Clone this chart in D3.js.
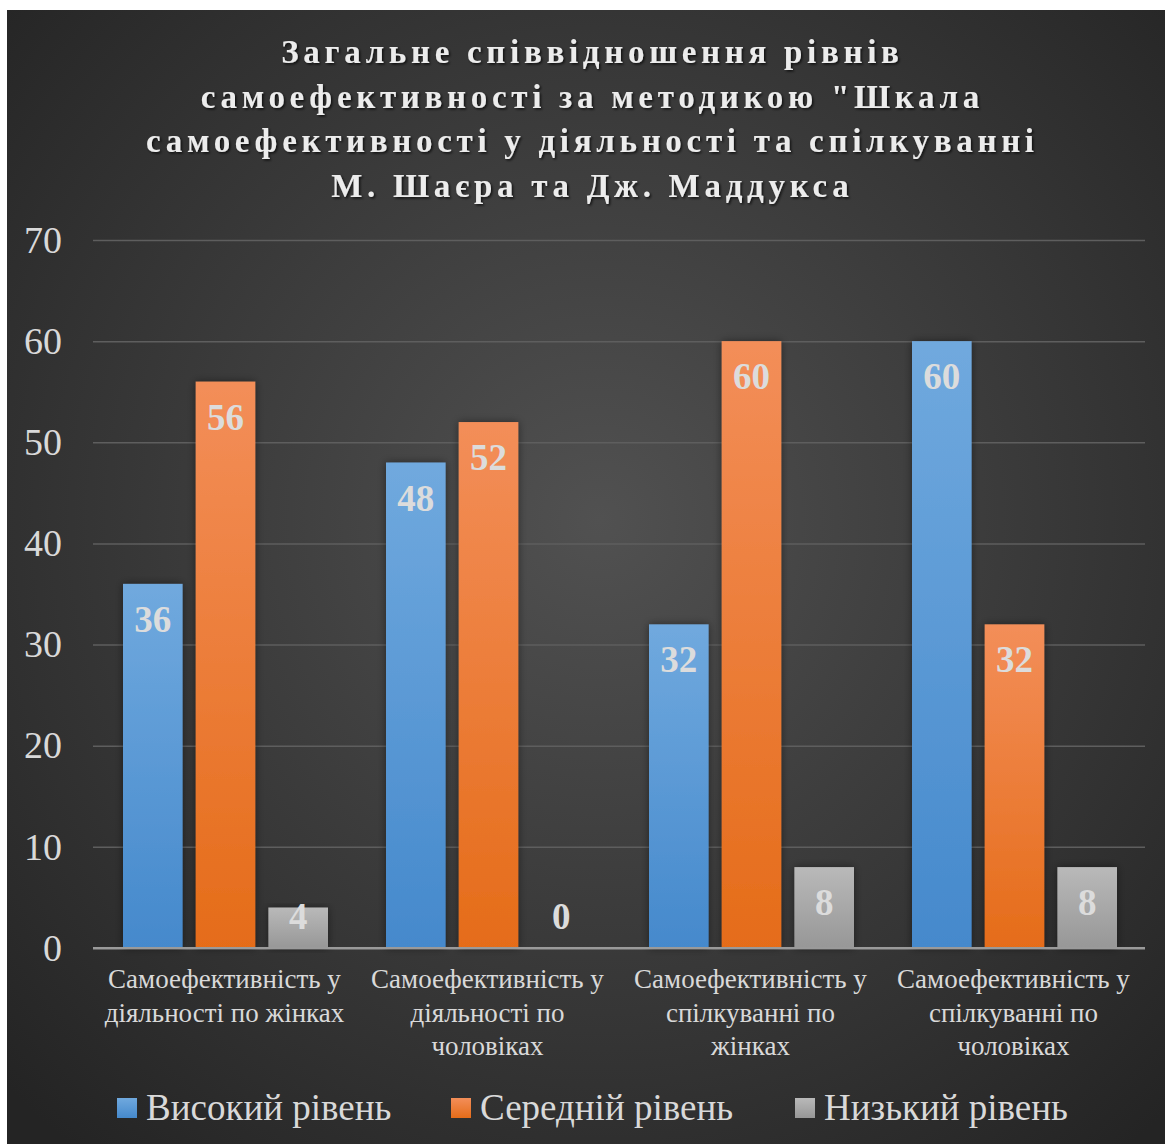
<!DOCTYPE html>
<html>
<head>
<meta charset="utf-8">
<script src="https://cdn.jsdelivr.net/npm/d3@7/dist/d3.min.js"></script>
<style>
  html, body { margin: 0; padding: 0; background: #ffffff; }
  svg { display: block; }
</style>
</head>
<body>
<script>
// Categories, series and values
const categories = [
  ["Самоефективність у", "діяльності по жінках"],
  ["Самоефективність у", "діяльності по", "чоловіках"],
  ["Самоефективність у", "спілкуванні по", "жінках"],
  ["Самоефективність у", "спілкуванні по", "чоловіках"]
];
const seriesNames = ["Високий рівень", "Середній рівень", "Низький рівень"];
const highValues = [36, 48, 32, 60];
const mediumValues = [56, 52, 60, 32];
const lowValues = [4, 0, 8, 8];
const yTicks = [0, 10, 20, 30, 40, 50, 60, 70];
const titleLines = [
  "Загальне співвідношення рівнів",
  "самоефективності за методикою \"Шкала",
  "самоефективності у діяльності та спілкуванні",
  "М. Шаєра та Дж. Маддукса"
];

const W = 1165, H = 1144;
const serif = "'Liberation Serif', 'Times New Roman', serif";

const svg = d3.select("body").append("svg")
  .attr("width", W).attr("height", H);

const defs = svg.append("defs");

// background radial gradient
const bg = defs.append("radialGradient").attr("id", "bgGrad")
  .attr("gradientUnits", "userSpaceOnUse")
  .attr("cx", 600).attr("cy", 520).attr("r", 820);
bg.append("stop").attr("offset", "0%").attr("stop-color", "#515151");
bg.append("stop").attr("offset", "100%").attr("stop-color", "#242424");

// bar gradients
const barColors = [
  ["#70a9de", "#4589cc"],
  ["#f38e59", "#e56c19"],
  ["#b9b9b9", "#979797"]
];
barColors.forEach((c, i) => {
  const g = defs.append("linearGradient").attr("id", "bar" + i)
    .attr("x1", 0).attr("y1", 0).attr("x2", 0).attr("y2", 1);
  g.append("stop").attr("offset", "0%").attr("stop-color", c[0]);
  g.append("stop").attr("offset", "100%").attr("stop-color", c[1]);
});

const shadow = defs.append("filter").attr("id", "barShadow")
  .attr("x", "-30%").attr("y", "-10%").attr("width", "160%").attr("height", "120%");
shadow.append("feDropShadow").attr("dx", 0).attr("dy", 0)
  .attr("stdDeviation", 4).attr("flood-color", "#000").attr("flood-opacity", 0.45);

const txtShadow = defs.append("filter").attr("id", "txtShadow")
  .attr("x", "-5%").attr("y", "-20%").attr("width", "110%").attr("height", "140%");
txtShadow.append("feDropShadow").attr("dx", 1.5).attr("dy", 1.5)
  .attr("stdDeviation", 1.2).attr("flood-color", "#000").attr("flood-opacity", 0.7);

svg.append("rect").attr("x", 7).attr("y", 10)
  .attr("width", W - 7).attr("height", H - 10)
  .attr("fill", "url(#bgGrad)");

// title
const titleSpacing = 4.7;
svg.append("g").attr("filter", "url(#txtShadow)")
  .selectAll("text").data(titleLines).join("text")
  .attr("x", 590 + titleSpacing / 2).attr("y", (d, i) => 63 + i * 44.5)
  .attr("text-anchor", "middle")
  .attr("font-family", serif).attr("font-weight", "bold")
  .attr("font-size", 33).attr("letter-spacing", titleSpacing)
  .attr("fill", "#ececec")
  .text(d => d);

// scales
const y = d3.scaleLinear().domain([0, 70]).range([948, 240]);
const x0 = d3.scaleBand().domain(d3.range(categories.length))
  .range([93, 1145]).paddingInner(0).paddingOuter(0);
const x1 = d3.scaleBand().domain(d3.range(3))
  .range([30, x0.bandwidth() - 28]).paddingInner(0.18);

// gridlines and y axis labels
const yAxis = d3.axisLeft(y).tickValues(yTicks).tickSize(-(1145 - 93)).tickPadding(31);
const gy = svg.append("g").attr("transform", "translate(93,0)").call(yAxis);
gy.select(".domain").remove();
gy.selectAll(".tick line").attr("stroke", "#5e5e5e").attr("stroke-width", 1.5)
  .filter(d => d === 0).attr("stroke", "#9a9a9a").attr("stroke-width", 2.2);
gy.selectAll(".tick text")
  .attr("font-family", serif).attr("font-size", 38)
  .attr("fill", "#d9d9d9");

// bars
const series = [highValues, mediumValues, lowValues];
const rows = [];
categories.forEach((c, ci) => {
  series.forEach((vals, si) => rows.push({ ci, si, v: vals[ci] }));
});

const barG = svg.append("g");
barG.selectAll("rect").data(rows.filter(d => d.v > 0)).join("rect")
  .attr("x", d => x0(d.ci) + x1(d.si))
  .attr("y", d => y(d.v))
  .attr("width", x1.bandwidth())
  .attr("height", d => y(0) - y(d.v))
  .attr("fill", d => `url(#bar${d.si})`)
  .attr("filter", "url(#barShadow)");

// baseline over the bars
svg.append("line").attr("x1", 93).attr("x2", 1145)
  .attr("y1", y(0)).attr("y2", y(0))
  .attr("stroke", "#9a9a9a").attr("stroke-width", 2.2);

// value labels at the inside end of each bar
svg.append("g").selectAll("text").data(rows).join("text")
  .attr("x", d => x0(d.ci) + x1(d.si) + x1.bandwidth() / 2)
  .attr("y", d => Math.min(y(d.v) + 48, y(0) - 19))
  .attr("text-anchor", "middle")
  .attr("font-family", serif).attr("font-weight", "bold")
  .attr("font-size", 37).attr("fill", "#dcdcdc")
  .text(d => d.v);

// category labels
const catG = svg.append("g").selectAll("text").data(categories).join("text")
  .attr("text-anchor", "middle")
  .attr("font-family", serif).attr("font-size", 27)
  .attr("fill", "#d9d9d9");
catG.each(function (lines, i) {
  d3.select(this).selectAll("tspan").data(lines).join("tspan")
    .attr("x", x0(i) + x0.bandwidth() / 2)
    .attr("y", (d, j) => 988 + j * 33.5)
    .text(d => d);
});

// legend
const legendX = [117, 451, 795];
const leg = svg.append("g").selectAll("g").data(seriesNames).join("g")
  .attr("transform", (d, i) => `translate(${legendX[i]},1108)`);
leg.append("rect").attr("x", 0).attr("y", -10).attr("width", 20).attr("height", 20)
  .attr("fill", (d, i) => `url(#bar${i})`);
leg.append("text").attr("x", 29).attr("y", 12)
  .attr("font-family", serif).attr("font-size", 37)
  .attr("fill", "#d9d9d9")
  .text(d => d);
</script>
</body>
</html>
